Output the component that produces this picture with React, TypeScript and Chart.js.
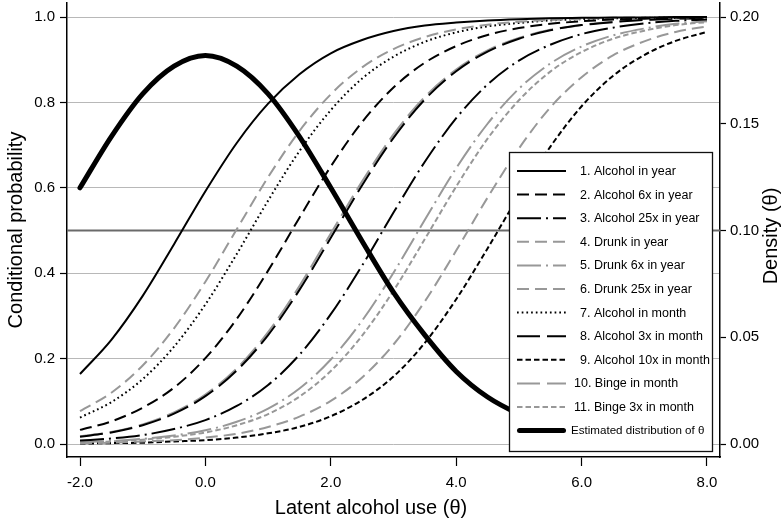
import React, { useEffect, useRef } from "react";
import { Chart, registerables } from "chart.js";

Chart.register(...registerables);

// ---------------- data ----------------
const theta = [-2.0, -1.5, -1.0, -0.5, 0.0, 0.5, 1.0, 1.5, 2.0, 2.5, 3.0, 3.5, 4.0, 4.5, 5.0, 5.5, 6.0, 6.5, 7.0, 7.5, 8.0];

const alcoholYear = [0.164, 0.244, 0.347, 0.468, 0.592, 0.705, 0.797, 0.866, 0.915, 0.946, 0.967, 0.980, 0.987, 0.992, 0.995, 0.997, 0.998, 0.999, 0.999, 1.0, 1.0];
const alcohol6xYear = [0.033, 0.053, 0.085, 0.132, 0.201, 0.293, 0.406, 0.530, 0.650, 0.754, 0.835, 0.893, 0.932, 0.958, 0.974, 0.984, 0.990, 0.994, 0.996, 0.998, 0.999];
const alcohol25xYear = [0.008, 0.013, 0.021, 0.035, 0.056, 0.089, 0.138, 0.209, 0.304, 0.418, 0.542, 0.661, 0.763, 0.842, 0.898, 0.935, 0.960, 0.975, 0.985, 0.991, 0.994];
const drunkYear = [0.077, 0.120, 0.184, 0.271, 0.380, 0.503, 0.625, 0.733, 0.819, 0.882, 0.925, 0.953, 0.971, 0.982, 0.989, 0.993, 0.996, 0.998, 0.999, 0.999, 1.0];
const drunk6xYear = [0.005, 0.007, 0.012, 0.020, 0.032, 0.052, 0.083, 0.130, 0.198, 0.289, 0.401, 0.525, 0.646, 0.750, 0.832, 0.891, 0.931, 0.957, 0.973, 0.984, 0.990];
const drunk25xYear = [0.002, 0.003, 0.006, 0.009, 0.015, 0.024, 0.040, 0.064, 0.101, 0.156, 0.233, 0.334, 0.453, 0.577, 0.692, 0.788, 0.859, 0.910, 0.943, 0.965, 0.978];
const alcoholMonth = [0.062, 0.098, 0.152, 0.228, 0.327, 0.445, 0.570, 0.686, 0.782, 0.856, 0.907, 0.942, 0.964, 0.978, 0.986, 0.992, 0.995, 0.997, 0.998, 0.999, 0.999];
const alcohol3xMonth = [0.017, 0.027, 0.044, 0.071, 0.112, 0.172, 0.255, 0.361, 0.483, 0.606, 0.717, 0.807, 0.873, 0.919, 0.949, 0.969, 0.981, 0.988, 0.993, 0.996, 0.997];
const alcohol10xMonth = [0.001, 0.002, 0.003, 0.006, 0.009, 0.015, 0.025, 0.040, 0.065, 0.103, 0.158, 0.237, 0.339, 0.458, 0.582, 0.696, 0.791, 0.862, 0.911, 0.944, 0.965];
const bingeMonth = [0.018, 0.028, 0.046, 0.074, 0.116, 0.177, 0.262, 0.370, 0.493, 0.615, 0.725, 0.813, 0.877, 0.922, 0.951, 0.970, 0.981, 0.989, 0.993, 0.996, 0.997];
const binge3xMonth = [0.004, 0.006, 0.010, 0.017, 0.027, 0.044, 0.070, 0.111, 0.171, 0.254, 0.359, 0.480, 0.603, 0.715, 0.805, 0.872, 0.918, 0.949, 0.968, 0.981, 0.988];
const thetaDensity = [0.120, 0.144, 0.164, 0.177, 0.182, 0.177, 0.164, 0.144, 0.120, 0.095, 0.071, 0.051, 0.034, 0.022, 0.014, 0.008, 0.004, 0.002, 0.001, 0.001, 0.000];

const itemLabels = [
  "1. Alcohol in year",
  "2. Alcohol 6x in year",
  "3. Alcohol 25x in year",
  "4. Drunk in year",
  "5. Drunk 6x in year",
  "6. Drunk 25x in year",
  "7. Alcohol in month",
  "8. Alcohol 3x in month",
  "9. Alcohol 10x in month",
  "10. Binge in month",
  "11. Binge 3x in month",
];
const densityLabel = "Estimated distribution of θ";
const itemSeries = [alcoholYear, alcohol6xYear, alcohol25xYear, drunkYear, drunk6xYear, drunk25xYear, alcoholMonth, alcohol3xMonth, alcohol10xMonth, bingeMonth, binge3xMonth];

const xTickValues = [-2, 0, 2, 4, 6, 8];
const yTickValues = [0, 0.2, 0.4, 0.6, 0.8, 1.0];
const y2TickValues = [0, 0.05, 0.1, 0.15, 0.2];
const referenceProbability = 0.5;

const xTitle = "Latent alcohol use (θ)";
const yTitle = "Conditional probability";
const y2Title = "Density (θ)";

// ---------------- styles / layout ----------------
const FONT = "'Liberation Sans', Arial, Helvetica, sans-serif";
const BLACK = "#000000";
const GRAY = "#989898";
const W = 783;
const H = 522;

const DASH_SOLID: number[] = [];
const DASH_MED = [12, 6];
const DASH_DOT = [24, 5, 2, 5];
const DASH_DOTTED = [1.7, 3];
const DASH_LONG = [23, 7];
const DASH_SHORT = [5.5, 3];

const itemStyles = [
  { color: BLACK, dash: DASH_SOLID, textX: 580 },
  { color: BLACK, dash: DASH_MED, textX: 580 },
  { color: BLACK, dash: DASH_DOT, textX: 580 },
  { color: GRAY, dash: DASH_MED, textX: 580 },
  { color: GRAY, dash: DASH_DOT, textX: 580 },
  { color: GRAY, dash: DASH_MED, textX: 580 },
  { color: BLACK, dash: DASH_DOTTED, textX: 580 },
  { color: BLACK, dash: DASH_LONG, textX: 580 },
  { color: BLACK, dash: DASH_SHORT, textX: 580 },
  { color: GRAY, dash: DASH_LONG, textX: 574 },
  { color: GRAY, dash: DASH_SHORT, textX: 574 },
];

// plot region (pixels) -> axis ranges
const AREA = { left: 67, right: 720, top: 3, bottom: 457 };
const X_MIN = -2 - 13 / 62.7;
const X_MAX = 8 + 13 / 62.7;
const Y_MIN = -13 / 427;
const Y_MAX = 1 + 14 / 427;
const Y2_MIN = Y_MIN * 0.2;
const Y2_MAX = Y_MAX * 0.2;

const LEGEND = { left: 509.5, top: 152.5, width: 203, height: 299, firstRow: 171, pitch: 23.6, lineX0: 517, lineX1: 566 };

const refLinePlugin = {
  id: "refLine",
  beforeDatasetsDraw(chart: any) {
    const { ctx, chartArea, scales } = chart;
    const y = scales.y.getPixelForValue(referenceProbability);
    ctx.save();
    ctx.strokeStyle = "#6a6a6a";
    ctx.lineWidth = 1.8;
    ctx.beginPath();
    ctx.moveTo(chartArea.left, y);
    ctx.lineTo(chartArea.right, y);
    ctx.stroke();
    ctx.restore();
  },
};

const overlayPlugin = {
  id: "overlay",
  afterDraw(chart: any) {
    const { ctx } = chart;
    ctx.save();
    // x axis title
    ctx.fillStyle = BLACK;
    ctx.font = `20px ${FONT}`;
    ctx.textAlign = "center";
    ctx.textBaseline = "middle";
    ctx.fillText(xTitle, 371, 508);
    // right axis title (reads bottom to top)
    ctx.save();
    ctx.translate(771, 236);
    ctx.rotate(-Math.PI / 2);
    ctx.fillText(y2Title, 0, 0);
    ctx.restore();

    // legend box
    const L = LEGEND;
    ctx.fillStyle = "#ffffff";
    ctx.fillRect(L.left, L.top, L.width, L.height);
    ctx.strokeStyle = "#111111";
    ctx.lineWidth = 1.3;
    ctx.setLineDash([]);
    ctx.strokeRect(L.left, L.top, L.width, L.height);

    const datasets = chart.data.datasets;
    datasets.forEach((ds: any, i: number) => {
      const y = L.firstRow + i * L.pitch;
      ctx.save();
      ctx.strokeStyle = ds.borderColor;
      ctx.lineWidth = ds.borderWidth;
      ctx.lineCap = ds.borderCapStyle || "butt";
      ctx.setLineDash(ds.borderDash || []);
      ctx.beginPath();
      const inset = ds.borderCapStyle === "round" ? ds.borderWidth / 2 : 0;
      ctx.moveTo(L.lineX0 + inset, y);
      ctx.lineTo(L.lineX1 - inset, y);
      ctx.stroke();
      ctx.restore();
      ctx.fillStyle = BLACK;
      ctx.textAlign = "left";
      ctx.textBaseline = "middle";
      const isDensity = i === datasets.length - 1;
      ctx.font = isDensity ? `11.6px ${FONT}` : `12.5px ${FONT}`;
      const tx = isDensity ? 571 : itemStyles[i].textX;
      ctx.fillText(ds.label, tx, y + 0.5);
    });
    ctx.restore();
  },
};

export default function App() {
  const canvasRef = useRef<HTMLCanvasElement | null>(null);

  useEffect(() => {
    const canvas = canvasRef.current;
    if (!canvas) return;
    Chart.defaults.font.family = FONT;
    Chart.defaults.color = BLACK;

    const itemDatasets = itemSeries.map((series, k) => ({
      label: itemLabels[k],
      data: theta.map((t, i) => ({ x: t, y: series[i] })),
      yAxisID: "y",
      borderColor: itemStyles[k].color,
      borderDash: itemStyles[k].dash,
      borderWidth: 2,
      pointRadius: 0,
      fill: false,
      cubicInterpolationMode: "monotone" as const,
      order: k,
    }));

    const densityDataset = {
      label: densityLabel,
      data: theta.map((t, i) => ({ x: t, y: thetaDensity[i] })),
      yAxisID: "y2",
      borderColor: BLACK,
      borderDash: [] as number[],
      borderWidth: 5,
      borderCapStyle: "round" as const,
      borderJoinStyle: "round" as const,
      pointRadius: 0,
      fill: false,
      cubicInterpolationMode: "monotone" as const,
      order: -1,
    };

    const tickFont = { size: 15, family: FONT };
    const zeroPad = (s: any) => {
      s.paddingTop = 0;
      s.paddingBottom = 0;
      s.paddingLeft = 0;
      s.paddingRight = 0;
    };

    const chart = new Chart(canvas, {
      type: "line",
      data: { datasets: [...itemDatasets, densityDataset] as any },
      options: {
        responsive: false,
        animation: false,
        devicePixelRatio: 1,
        layout: { padding: { top: AREA.top, left: 0, right: 0, bottom: 0 } },
        plugins: { legend: { display: false }, tooltip: { enabled: false } },
        scales: {
          x: {
            type: "linear",
            position: "bottom",
            min: X_MIN,
            max: X_MAX,
            afterBuildTicks: (s: any) => {
              s.ticks = xTickValues.map((v) => ({ value: v }));
            },
            afterFit: (s: any) => {
              s.height = H - AREA.bottom;
              zeroPad(s);
            },
            ticks: {
              font: tickFont,
              color: BLACK,
              padding: 8,
              maxRotation: 0,
              autoSkip: false,
              callback: (v: any) => Number(v).toFixed(1),
            },
            grid: { drawOnChartArea: false, tickLength: 9, tickColor: BLACK, tickWidth: 1.2 },
            border: { display: true, color: BLACK, width: 1.5 },
          },
          y: {
            type: "linear",
            position: "left",
            min: Y_MIN,
            max: Y_MAX,
            afterBuildTicks: (s: any) => {
              s.ticks = yTickValues.map((v) => ({ value: v }));
            },
            afterFit: (s: any) => {
              s.width = AREA.left;
              zeroPad(s);
            },
            ticks: {
              font: tickFont,
              color: BLACK,
              padding: 5,
              autoSkip: false,
              callback: (v: any) => Number(v).toFixed(1),
            },
            grid: { color: "#b8b8b8", lineWidth: 1, tickLength: 7, tickColor: BLACK, tickWidth: 1.2 },
            border: { display: true, color: BLACK, width: 1.5 },
            title: {
              display: true,
              text: yTitle,
              font: { size: 20, family: FONT },
              color: BLACK,
              padding: { top: 4, bottom: 0 },
            },
          },
          y2: {
            type: "linear",
            position: "right",
            min: Y2_MIN,
            max: Y2_MAX,
            afterBuildTicks: (s: any) => {
              s.ticks = y2TickValues.map((v) => ({ value: v }));
            },
            afterFit: (s: any) => {
              s.width = W - AREA.right;
              zeroPad(s);
            },
            ticks: {
              font: tickFont,
              color: BLACK,
              padding: 4,
              autoSkip: false,
              callback: (v: any) => Number(v).toFixed(2),
            },
            grid: { drawOnChartArea: false, tickLength: 6, tickColor: BLACK, tickWidth: 1.2 },
            border: { display: true, color: BLACK, width: 1.5 },
          },
        },
      },
      plugins: [refLinePlugin, overlayPlugin],
    });

    return () => chart.destroy();
  }, []);

  return (
    <div style={{ position: "fixed", left: 0, top: 0, width: W, height: H, background: "#ffffff" }}>
      <canvas ref={canvasRef} width={W} height={H} style={{ display: "block", width: W, height: H }} />
    </div>
  );
}
